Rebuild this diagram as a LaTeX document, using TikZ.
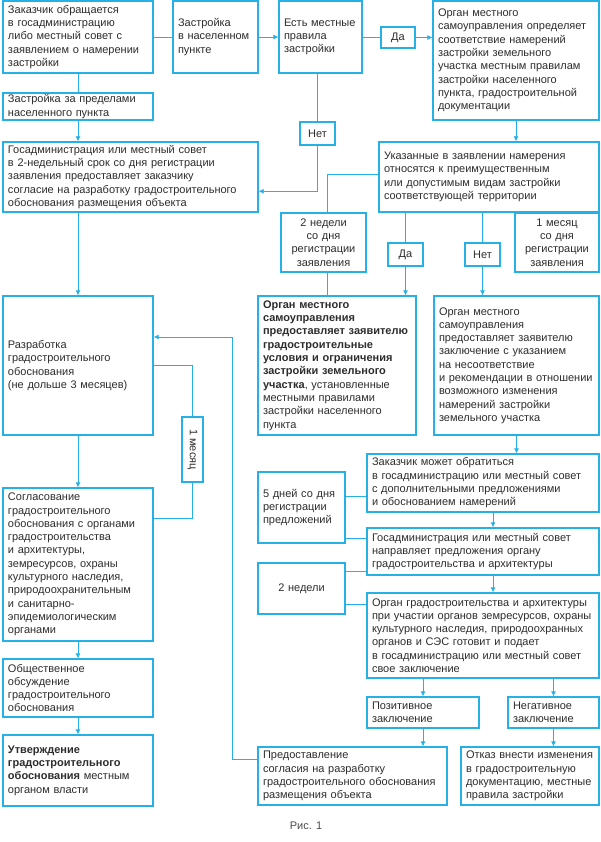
\documentclass[tikz,border=0pt]{standalone}
\usepackage{fontspec}
\setmainfont{Liberation Sans}
\usetikzlibrary{arrows.meta,calc}
\definecolor{cy}{RGB}{38,176,230}
\definecolor{tx}{RGB}{45,45,45}
\tikzset{
 box/.style={draw=cy,line width=1.3pt,rectangle,inner xsep=5pt,inner ysep=1pt,align=left,text=tx,font=\fontsize{11}{13.3}\selectfont},
 cbox/.style={box,align=center},
 ln/.style={draw=cy,line width=0.8pt},
 arr/.style={ln,-{Latex[length=5pt,width=5pt]}},
}
\newcommand\bx[7][]{%
 \pgfmathsetmacro\bxw{#5-#3}\pgfmathsetmacro\bxh{#6-#4}\pgfmathsetmacro\bxt{#5-#3-10}%
 \node[box,minimum width=\bxw pt,minimum height=\bxh pt,text width=\bxt pt,#1] (#2) at ({(#3+#5)/2},{(#4+#6)/2}) {#7};}
\begin{document}
\begin{tikzpicture}[x=1pt,y=-1pt]
\useasboundingbox[fill=white] (0,0) rectangle (600,842);
\bx{b1}{3}{1}{153}{73}{Заказчик обращается\\ в госадминистрацию\\ либо местный совет с\\ заявлением о намерении\\ застройки}
\bx{b2}{173}{1}{258}{73}{Застройка\\ в населенном\\ пункте}
\bx{b3}{279}{1}{362}{73}{Есть местные\\ правила\\ застройки}
\bx[cbox]{da1}{381}{27}{415}{48}{Да}
\bx{b4}{433}{1}{599}{120}{Орган местного\\ самоуправления определяет\\ соответствие намерений\\ застройки земельного\\ участка местным правилам\\ застройки населенного\\ пункта, градостроительной\\ документации}
\bx{b1b}{3}{93}{153}{120}{Застройка за пределами\\ населенного пункта}
\bx[cbox]{net1}{300}{122}{335}{145}{Нет}
\bx{b6}{3}{142}{258}{212}{Госадминистрация или местный совет\\ в 2-недельный срок со дня регистрации\\ заявления предоставляет заказчику\\ согласие на разработку градостроительного\\ обоснования размещения объекта}
\bx{b5}{379}{142}{599}{212}{Указанные в заявлении намерения\\ относятся к преимущественным\\ или допустимым видам застройки\\ соответствующей территории}
\bx[cbox]{ned2w}{281}{213}{366}{272}{2 недели\\ со дня\\ регистрации\\ заявления}
\bx[cbox]{da2}{388}{243}{423}{266}{Да}
\bx[cbox]{net2}{465}{243}{500}{266}{Нет}
\bx[cbox]{mes1}{515}{213}{599}{272}{1 месяц\\ со дня\\ регистрации\\ заявления}
\bx{razr}{3}{296}{153}{435}{Разработка\\ градостроительного\\ обоснования\\ (не дольше 3 месяцев)}
\bx{b7}{258}{296}{416}{435}{\textbf{Орган местного}\\ \textbf{самоуправления}\\ \textbf{предоставляет заявителю}\\ \textbf{градостроительные}\\ \textbf{условия и ограничения}\\ \textbf{застройки земельного}\\ \textbf{участка}, установленные\\ местными правилами\\ застройки населенного\\ пункта}
\bx{b8}{434}{296}{599}{435}{Орган местного\\ самоуправления\\ предоставляет заявителю\\ заключение с указанием\\ на несоответствие\\ и рекомендации в отношении\\ возможного изменения\\ намерений застройки\\ земельного участка}
\node[cbox,rotate=-90,minimum width=65pt,minimum height=21pt,inner sep=0pt] (mes) at (192.5,449.5) {1 месяц};
\bx{sogl}{3}{488}{153}{641}{Согласование\\ градостроительного\\ обоснования с органами\\ градостроительства\\ и архитектуры,\\ земресурсов, охраны\\ культурного наследия,\\ природоохранительным\\ и санитарно-\\ эпидемиологическим\\ органами}
\bx{b9}{367}{454}{599}{512}{Заказчик может обратиться\\ в госадминистрацию или местный совет\\ с дополнительными предложениями\\ и обоснованием намерений}
\bx{dn5}{258}{472}{345}{543}{5 дней со дня\\ регистрации\\ предложений}
\bx{b10}{367}{528}{599}{575}{Госадминистрация или местный совет\\ направляет предложения органу\\ градостроительства и архитектуры}
\bx[cbox]{ned2}{258}{563}{345}{614}{2 недели}
\bx{b11}{367}{593}{599}{678}{Орган градостроительства и архитектуры\\ при участии органов земресурсов, охраны\\ культурного наследия, природоохранных\\ органов и СЭС готовит и подает\\ в госадминистрацию или местный совет\\ свое заключение}
\bx{obs}{3}{659}{153}{717}{Общественное\\ обсуждение\\ градостроительного\\ обоснования}
\bx{poz}{367}{697}{479}{728}{Позитивное\\ заключение}
\bx{neg}{508}{697}{599}{728}{Негативное\\ заключение}
\bx{utv}{3}{735}{153}{806}{\textbf{Утверждение}\\ \textbf{градостроительного}\\ \textbf{обоснования} местным\\ органом власти}
\bx{pred}{258}{747}{447}{805}{Предоставление\\ согласия на разработку\\ градостроительного обоснования\\ размещения объекта}
\bx{otk}{461}{747}{599}{805}{Отказ внести изменения\\ в градостроительную\\ документацию, местные\\ правила застройки}
\node[text=tx!85,font=\fontsize{11}{13}\selectfont] (cap) at (306,826) {Рис. 1};
% connectors
\draw[ln] (b1.east) -- (b2.west);
\draw[arr] (b2.east) -- (b3.west);
\draw[ln] (b3.east) -- (b3.east -| da1.west);
\draw[arr] (da1.east) -- (da1.east -| b4.west);
\draw[arr] (b4.south) -- (b4.south |- b5.north);
\draw[ln] (b3.south -| net1.north) -- (net1.north);
\draw[arr] (net1.south) |- ($(b6.north east)!0.7!(b6.south east)$);
\draw[ln] (b1.south) -- (b1b.north);
\draw[arr] (b1b.south) -- (b1b.south |- b6.north);
\draw[arr] (razr.north |- b6.south) -- (razr.north);
\draw[ln] ($(b5.north west)!0.47!(b5.south west)$) -| ($(ned2w.north west)!0.54!(ned2w.north east)$);
\draw[ln] ($(ned2w.south west)!0.54!(ned2w.south east)$) coordinate (q1) -- (q1 |- b7.north);
\draw[ln] (b5.south -| da2.north) -- (da2.north);
\draw[arr] (da2.south) -- (da2.south |- b7.north);
\draw[ln] (b5.south -| net2.north) -- (net2.north);
\draw[arr] (net2.south) -- (net2.south |- b8.north);
\draw[arr] (razr.south) -- (sogl.north);
\draw[arr] (sogl.south) -- (obs.north);
\draw[arr] (obs.south) -- (utv.north);
\draw[ln] (razr.east) -| (mes.west);
\draw[ln] (mes.east) |- ($(sogl.north east)!0.2!(sogl.south east)$);
\coordinate (cA) at (232,337);
\draw[arr] ($(pred.north west)!0.22!(pred.south west)$) -| (cA) -- (cA -| razr.east);
\draw[arr] (b8.south) -- (b8.south |- b9.north);
\draw[ln] ($(dn5.north east)!0.34!(dn5.south east)$) coordinate (t1) -- (t1 -| b9.west);
\draw[ln] ($(dn5.north east)!0.93!(dn5.south east)$) coordinate (t2) -- (t2 -| b10.west);
\draw[arr] ($(b9.south west)!0.543!(b9.south east)$) coordinate (t3) -- (t3 |- b10.north);
\draw[arr] (t3 |- b10.south) -- (t3 |- b11.north);
\draw[ln] ($(ned2.north east)!0.18!(ned2.south east)$) coordinate (t4) -- (t4 -| b10.west);
\draw[ln] ($(ned2.north east)!0.80!(ned2.south east)$) coordinate (t5) -- (t5 -| b11.west);
\draw[arr] (b11.south -| poz.north) -- (poz.north);
\draw[arr] (b11.south -| neg.north) -- (neg.north);
\draw[arr] (poz.south) -- (poz.south |- pred.north);
\draw[arr] (neg.south) -- (neg.south |- otk.north);
\end{tikzpicture}
\end{document}
